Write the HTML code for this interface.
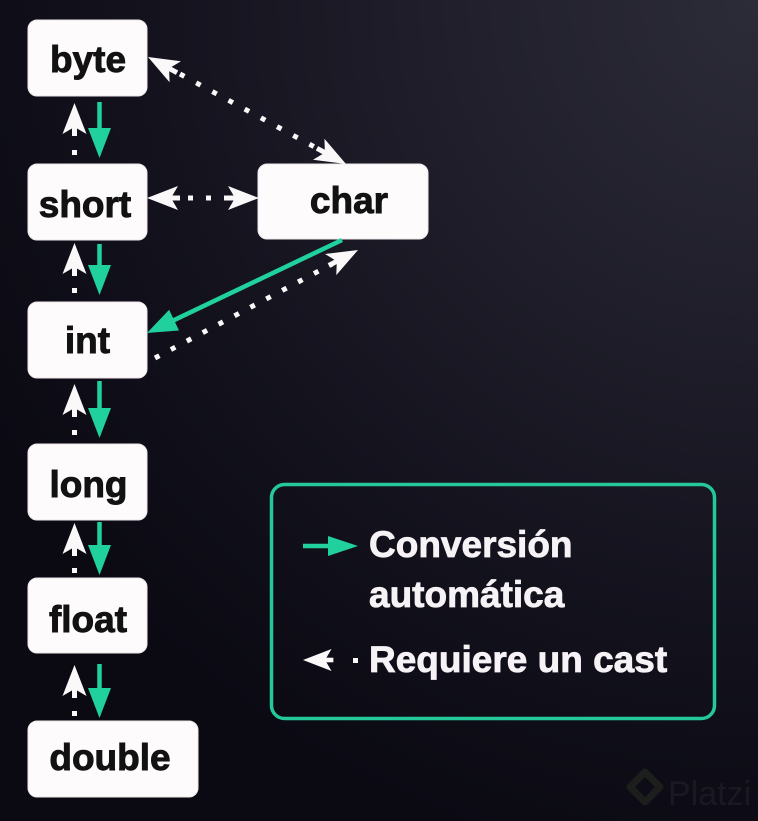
<!DOCTYPE html>
<html>
<head>
<meta charset="utf-8">
<style>
  html, body { margin: 0; padding: 0; background: #0d0c16; }
  body { width: 758px; height: 821px; overflow: hidden; }
  svg { display: block; }
  .node { fill: #fdfbfc; stroke: #efe4ea; stroke-width: 1; }
  .nt { font-family: "Liberation Sans", sans-serif; font-weight: bold; font-size: 37px; fill: #121212; stroke: #121212; stroke-width: 0.9; text-anchor: middle; }
  .lt { font-family: "Liberation Sans", sans-serif; font-weight: bold; font-size: 37px; fill: #f6f2f5; stroke: #f6f2f5; stroke-width: 0.8; }
</style>
</head>
<body>
<svg width="758" height="821" viewBox="0 0 758 821" xmlns="http://www.w3.org/2000/svg">
  <defs>
    <radialGradient id="bg" gradientUnits="userSpaceOnUse" cx="760" cy="0" r="880">
      <stop offset="0" stop-color="#2c2c38"/>
      <stop offset="0.35" stop-color="#201f2b"/>
      <stop offset="0.7" stop-color="#13121d"/>
      <stop offset="1" stop-color="#0b0a13"/>
    </radialGradient>
    <g id="wh">
      <path d="M0,0 L-31,-12 L-24,0 L-31,12 Z" fill="#fbf8fa"/>
      <rect x="-33" y="-2.5" width="11" height="5" fill="#fbf8fa"/>
    </g>
    <path id="gh" d="M0,0 L-30,-11.5 L-30,11.5 Z" fill="#20d19d"/>
  </defs>

  <rect width="758" height="821" fill="url(#bg)"/>

  <!-- watermark -->
  <g opacity="0.55">
    <path d="M645,772 L660,787 L645,802 L630,787 Z" fill="none" stroke="#2a2e22" stroke-width="7" stroke-linejoin="round"/>
    <text x="668" y="805" font-family="Liberation Sans, sans-serif" font-size="34" fill="#24242e">Platzi</text>
  </g>

  <!-- Nodes -->
  <rect class="node" x="28" y="20" width="119" height="76" rx="9"/>
  <text class="nt" x="88" y="72">byte</text>

  <rect class="node" x="28" y="164" width="119" height="76" rx="9"/>
  <text class="nt" x="85" y="217">short</text>

  <rect class="node" x="258" y="164" width="170" height="75" rx="9"/>
  <text class="nt" x="349" y="213">char</text>

  <rect class="node" x="28" y="302" width="119" height="76" rx="9"/>
  <text class="nt" x="87.5" y="353">int</text>

  <rect class="node" x="28" y="444" width="119" height="76" rx="9"/>
  <text class="nt" x="88.5" y="497">long</text>

  <rect class="node" x="28" y="578" width="119" height="75" rx="9"/>
  <text class="nt" x="88" y="632">float</text>

  <rect class="node" x="28" y="721" width="170" height="76" rx="9"/>
  <text class="nt" x="110" y="770">double</text>

  <!-- Vertical connectors -->
  <line x1="99.5" y1="102" x2="99.5" y2="140" stroke="#20d19d" stroke-width="4.5"/>
  <use href="#gh" transform="translate(99.5,158) rotate(90)"/>
  <use href="#wh" transform="translate(74.5,103) rotate(-90)"/>
  <rect x="72" y="150" width="5" height="5" fill="#fbf8fa"/>

  <line x1="99.5" y1="244" x2="99.5" y2="280" stroke="#20d19d" stroke-width="4.5"/>
  <use href="#gh" transform="translate(99.5,295) rotate(90)"/>
  <use href="#wh" transform="translate(74.5,243) rotate(-90)"/>
  <rect x="72" y="288" width="5" height="5" fill="#fbf8fa"/>

  <line x1="99.5" y1="381" x2="99.5" y2="422" stroke="#20d19d" stroke-width="4.5"/>
  <use href="#gh" transform="translate(99.5,438) rotate(90)"/>
  <use href="#wh" transform="translate(74.5,384) rotate(-90)"/>
  <rect x="72" y="430" width="5" height="5" fill="#fbf8fa"/>

  <line x1="99.5" y1="522" x2="99.5" y2="560" stroke="#20d19d" stroke-width="4.5"/>
  <use href="#gh" transform="translate(99.5,575) rotate(90)"/>
  <use href="#wh" transform="translate(74.5,523) rotate(-90)"/>
  <rect x="72" y="568" width="5" height="5" fill="#fbf8fa"/>

  <line x1="99.5" y1="664" x2="99.5" y2="702" stroke="#20d19d" stroke-width="4.5"/>
  <use href="#gh" transform="translate(99.5,718) rotate(90)"/>
  <use href="#wh" transform="translate(74.5,665) rotate(-90)"/>
  <rect x="72" y="711" width="5" height="5" fill="#fbf8fa"/>

  <!-- byte <-> char dotted -->
  <line x1="180" y1="74" x2="322" y2="151" stroke="#fbf8fa" stroke-width="5" stroke-dasharray="5 13.4"/>
  <use href="#wh" transform="translate(148,57) rotate(208.4)"/>
  <use href="#wh" transform="translate(346,164) rotate(28.4)"/>

  <!-- short <-> char dotted -->
  <line x1="188" y1="198" x2="232" y2="198" stroke="#fbf8fa" stroke-width="5" stroke-dasharray="5 13"/>
  <use href="#wh" transform="translate(147,198) rotate(180)"/>
  <use href="#wh" transform="translate(259,198) rotate(0)"/>

  <!-- char -> int green -->
  <line x1="342" y1="240" x2="160" y2="326.8" stroke="#20d19d" stroke-width="4.5"/>
  <use href="#gh" transform="translate(147,333) rotate(154.5)"/>

  <!-- int -> char white dotted -->
  <line x1="155" y1="358" x2="332" y2="264" stroke="#fbf8fa" stroke-width="5" stroke-dasharray="5 13"/>
  <use href="#wh" transform="translate(358,250) rotate(-28)"/>

  <!-- Legend -->
  <rect x="271.5" y="484.5" width="443" height="234" rx="13" fill="none" stroke="#25c899" stroke-width="3.5"/>
  <line x1="303" y1="546" x2="340" y2="546" stroke="#20d19d" stroke-width="4.5"/>
  <path d="M358,546 L328,536 L328,556 Z" fill="#20d19d"/>
  <text class="lt" x="369" y="557">Conversión</text>
  <text class="lt" x="369" y="607">automática</text>

  <use href="#wh" transform="translate(303,660) rotate(180) scale(0.92)"/>
  <rect x="353" y="658" width="5" height="5" fill="#fbf8fa"/>
  <text class="lt" x="369" y="672">Requiere un cast</text>
</svg>
</body>
</html>
